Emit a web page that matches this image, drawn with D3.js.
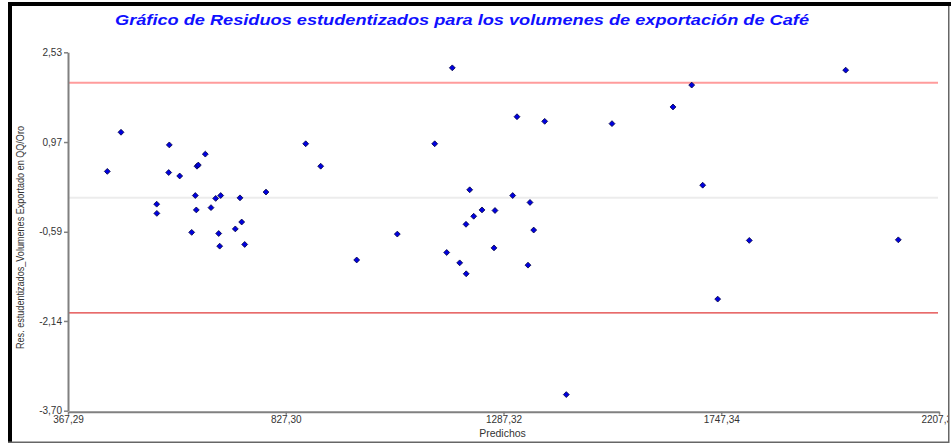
<!DOCTYPE html>
<html>
<head>
<meta charset="utf-8">
<script src="https://cdn.jsdelivr.net/npm/d3@7"></script>
<style>
  html, body { margin: 0; padding: 0; background: #fff; }
  svg { display: block; }
  text { font-family: "Liberation Sans", Arial, sans-serif; }
</style>
</head>
<body>
<svg id="chart" width="951" height="445"></svg>
<script>
// Predicted values (x) and studentized residuals (y)
const predichos = [
  450.31, 479.26, 554.67, 555.00, 580.03, 581.29, 603.26, 628.61, 636.22, 638.33,
  639.81, 642.56, 657.35, 669.39, 679.32, 685.65, 687.77, 689.88, 720.72, 730.65,
  734.24, 740.58, 785.58, 869.45, 901.14, 977.19, 1062.96, 1141.97, 1167.32, 1179.15,
  1194.78, 1208.09, 1208.50, 1215.91, 1224.36, 1241.89, 1267.24, 1269.36, 1306.75, 1315.83,
  1339.07, 1343.30, 1351.11, 1374.35, 1419.98, 1516.53, 1645.39, 1684.90, 1708.14, 1739.83,
  1806.58, 2010.24, 2121.37
];
const residuos = [
  0.46, 1.14, -0.11, -0.27, 0.44, 0.92, 0.38, -0.60, 0.04, -0.21,
  0.55, 0.57, 0.76, -0.17, -0.01, -0.62, -0.84, 0.04, -0.54, 0.00,
  -0.42, -0.81, 0.10, 0.94, 0.55, -1.08, -0.63, 0.94, -0.95, 2.26,
  -1.13, -0.46, -1.32, 0.14, -0.32, -0.21, -0.87, -0.22, 0.04, 1.41,
  -1.17, -0.08, -0.56, 1.33, -3.42, 1.29, 1.58, 1.96, 0.22, -1.76,
  -0.74, 2.22, -0.73
];

// Axis ticks and their labels
const xTicks = [367.29, 827.30, 1287.32, 1747.34, 2207.35];
const xTickLabels = ["367,29", "827,30", "1287,32", "1747,34", "2207,35"];
const yTicks = [2.53, 0.97, -0.59, -2.14, -3.70];
const yTickLabels = ["2,53", "0,97", "-0,59", "-2,14", "-3,70"];

// Reference lines: zero and the ±2 limits
const limiteSuperior = 2;
const limiteInferior = -2;
const lineaCero = 0;

const titulo = "Gráfico de Residuos estudentizados para los volumenes de exportación de Café";
const tituloX = "Predichos";
const tituloY = "Res. estudentizados_Volumenes Exportado en QQ/Oro";

const svg = d3.select("#chart");
const plot = { left: 68, right: 939, top: 52.3, bottom: 410.7 };

const x = d3.scaleLinear().domain([xTicks[0], xTicks[xTicks.length - 1]]).range([plot.left, plot.right]);
const y = d3.scaleLinear().domain([yTicks[yTicks.length - 1], yTicks[0]]).range([plot.bottom, plot.top]);

// Everything inside the window frame is clipped to it
svg.append("defs").append("clipPath").attr("id", "frameClip")
  .append("rect").attr("x", 12).attr("y", 6).attr("width", 936).attr("height", 435);

const g = svg.append("g").attr("clip-path", "url(#frameClip)");

// Horizontal reference lines
g.append("line")
  .attr("x1", plot.left).attr("x2", plot.right - 1)
  .attr("y1", y(lineaCero)).attr("y2", y(lineaCero))
  .attr("stroke", "#ececec").attr("stroke-width", 2);
g.append("line")
  .attr("x1", plot.left).attr("x2", plot.right - 1)
  .attr("y1", y(limiteSuperior)).attr("y2", y(limiteSuperior))
  .attr("stroke", "#ff9c9c").attr("stroke-width", 2);
g.append("line")
  .attr("x1", plot.left).attr("x2", plot.right - 1)
  .attr("y1", y(limiteInferior)).attr("y2", y(limiteInferior))
  .attr("stroke", "#e03a3a").attr("stroke-width", 1.1);

// Axes
const yAxis = d3.axisLeft(y).tickValues(yTicks)
  .tickFormat((d, i) => yTickLabels[i]).tickSize(4).tickSizeOuter(0).tickPadding(2);
const xAxis = d3.axisBottom(x).tickValues(xTicks)
  .tickFormat((d, i) => xTickLabels[i]).tickSize(3).tickSizeOuter(0).tickPadding(1);

const gy = g.append("g").attr("transform", `translate(${plot.left},0)`).call(yAxis);
const gx = g.append("g").attr("transform", `translate(0,${plot.bottom + 1})`).call(xAxis);
[gx, gy].forEach(a => {
  a.select(".domain").attr("stroke", "#808080").attr("stroke-width", 2);
  a.selectAll(".tick line").attr("stroke", "#808080").attr("stroke-width", 1.5);
  a.selectAll(".tick text").attr("fill", "#333").style("font-size", "10px")
    .style("font-family", "'Liberation Sans', Arial, sans-serif");
});

// Points
const puntos = predichos.map((p, i) => ({ p, r: residuos[i] }));
g.append("g").selectAll("path").data(puntos).join("path")
  .attr("d", d3.symbol().type(d3.symbolDiamond2).size(22))
  .attr("transform", d => `translate(${x(d.p)},${y(d.r)})`)
  .attr("fill", "#0000e0").attr("stroke", "#000040").attr("stroke-width", 0.8);

// Titles
svg.append("text")
  .attr("x", 462).attr("y", 25)
  .attr("text-anchor", "middle")
  .attr("textLength", 694).attr("lengthAdjust", "spacingAndGlyphs")
  .style("font-size", "15px").style("font-weight", "bold").style("font-style", "italic")
  .attr("fill", "#1010ff")
  .text(titulo);

svg.append("text")
  .attr("x", (plot.left + plot.right) / 2 - 1).attr("y", 437)
  .attr("text-anchor", "middle")
  .style("font-size", "10.5px").attr("fill", "#333")
  .text(tituloX);

svg.append("text")
  .attr("transform", "translate(24,237.5) rotate(-90)")
  .attr("text-anchor", "middle")
  .attr("textLength", 223).attr("lengthAdjust", "spacingAndGlyphs")
  .style("font-size", "10px").attr("fill", "#333")
  .text(tituloY);

// Window frame
svg.append("rect").attr("x", 8).attr("y", 2).attr("width", 943).attr("height", 4).attr("fill", "#000");
svg.append("rect").attr("x", 8).attr("y", 2).attr("width", 4).attr("height", 441).attr("fill", "#000");
svg.append("rect").attr("x", 948).attr("y", 6).attr("width", 1.5).attr("height", 437).attr("fill", "#666");
svg.append("rect").attr("x", 8).attr("y", 441.5).attr("width", 941).attr("height", 1.5).attr("fill", "#666");
</script>
</body>
</html>
